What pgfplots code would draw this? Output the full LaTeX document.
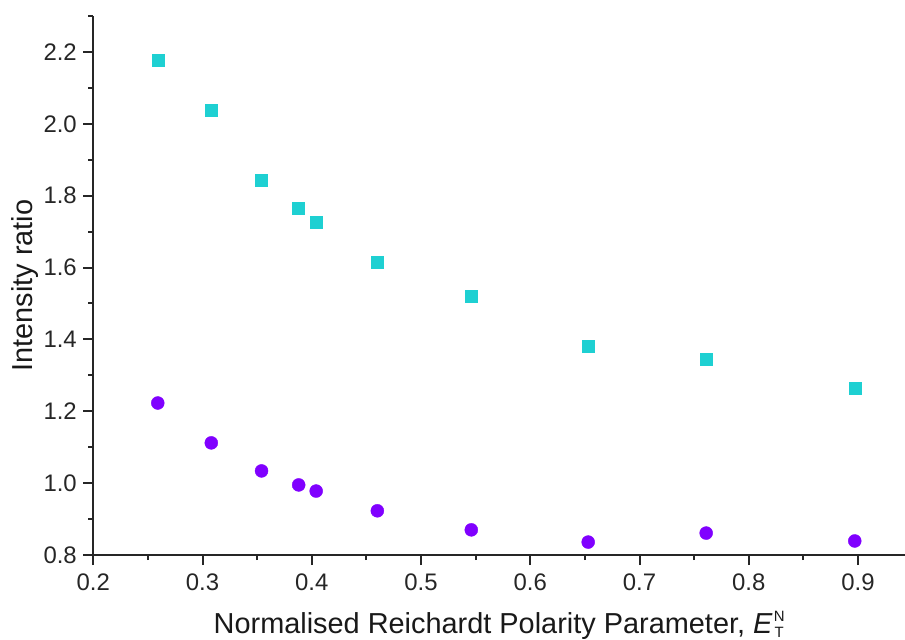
\documentclass[border=0pt]{standalone}
\usepackage{pgfplots}
\pgfplotsset{compat=1.18}
\usepackage{fontspec}
\setmainfont{Liberation Sans}
\definecolor{sqc}{RGB}{30,208,210}
\definecolor{cic}{RGB}{128,0,255}
\begin{document}
\begin{tikzpicture}
\begin{axis}[
  name=ax,
  scale only axis,
  width=811.7bp, height=539bp,
  xmin=0.2, xmax=0.943,
  ymin=0.8, ymax=2.3,
  axis x line*=bottom, axis y line*=left,
  axis line style={line width=2bp, black!85},
  every tick/.style={line width=2bp, black!85},
  tick align=outside,
  major tick length=10bp, minor tick length=5bp,
  xtick={0.2,0.3,0.4,0.5,0.6,0.7,0.8,0.9},
  minor xtick={0.25,0.35,0.45,0.55,0.65,0.75,0.85},
  ytick={0.8,1.0,1.2,1.4,1.6,1.8,2.0,2.2},
  minor ytick={0.9,1.1,1.3,1.5,1.7,1.9,2.1,2.3},
  /pgf/number format/assume math mode=true,
  /pgf/number format/.cd, fixed, fixed zerofill, precision=1, /pgfplots/.cd,
  tick label style={font=\fontsize{24}{28}\selectfont, text=black!85},
  xticklabel style={yshift=-5bp},
  yticklabel style={xshift=-3bp},
  xlabel={Normalised Reichardt Polarity Parameter, \textit{E}\kern1bp\raisebox{3bp}{\fontsize{15}{15}\selectfont\begin{tabular}{@{}c@{}}N\\[1bp]T\end{tabular}}},
  ylabel={Intensity ratio},
  label style={font=\fontsize{29}{33}\selectfont, text=black!90},
  xlabel style={yshift=-14bp},
  ylabel style={yshift=-2bp},
  clip=false,
]
\addplot[only marks, mark=square*, mark size=6bp, draw=sqc, fill=sqc] coordinates {
(0.259,2.176) (0.308,2.037) (0.354,1.842) (0.388,1.764) (0.404,1.725)
(0.460,1.616) (0.546,1.519) (0.653,1.382) (0.761,1.346) (0.897,1.265)
};
\addplot[only marks, mark=*, mark size=6.5bp, draw=cic, fill=cic] coordinates {
(0.259,1.223) (0.308,1.112) (0.354,1.034) (0.388,0.995) (0.404,0.978)
(0.460,0.923) (0.546,0.870) (0.653,0.836) (0.761,0.861) (0.897,0.839)
};
\end{axis}
\pgfresetboundingbox
\path ([shift={(-93.3bp,-85bp)}]ax.south west) rectangle ([shift={(0bp,16bp)}]ax.north east);
\end{tikzpicture}
\end{document}
